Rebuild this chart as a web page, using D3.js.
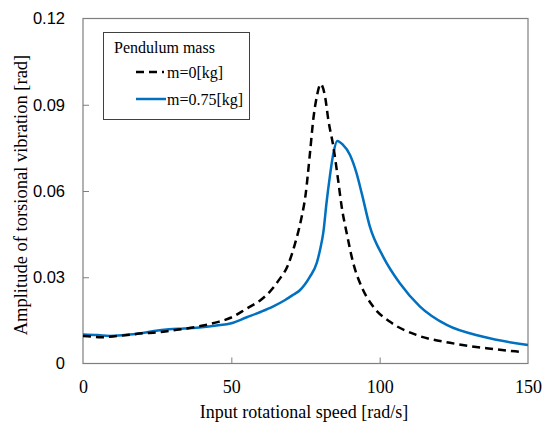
<!DOCTYPE html>
<html><head><meta charset="utf-8">
<script src="https://cdn.jsdelivr.net/npm/d3@7/dist/d3.min.js"></script>
<style>body{margin:0;background:#fff}</style>
</head><body>
<svg id="c" width="551" height="422"></svg>
<script>
const xTicks = [0, 50, 100, 150];
const yTicks = [0, 0.03, 0.06, 0.09, 0.12];
const yTickLabels = ["0", "0.03", "0.06", "0.09", "0.12"];
const seriesNames = ["m=0[kg]", "m=0.75[kg]"];
const speed0 = [0,3,6,10,15,20,25,30,35,40,45,50,55,60,63,66,69,71.5,73.5,75,76.5,77.6,78.8,80.1,81.6,82.7,84.4,86,87.2,88.9,91.1,93.9,97.8,103.5,112.5,123.7,136,147,148];
const amp0 = [0.0096,0.0094,0.0091,0.0094,0.0099,0.0105,0.0108,0.0115,0.0122,0.0131,0.0143,0.0160,0.0190,0.0222,0.0250,0.0290,0.0340,0.0418,0.0500,0.0585,0.0731,0.0847,0.0928,0.0972,0.0928,0.0847,0.0754,0.0638,0.0545,0.0453,0.0349,0.0267,0.0198,0.0145,0.0099,0.0072,0.0053,0.0041,0.0040];
const speed1 = [0,5,9,14,19,24,29,34,40,45,50,55,60,64,68,71,73,76.5,78.8,80,81,82.1,83.2,84.4,85.7,87.5,90,92.2,94,96.7,101.2,106.8,113.6,122.6,134.9,150];
const amp1 = [0.0101,0.0099,0.0096,0.0099,0.0104,0.0113,0.0119,0.0122,0.0126,0.0132,0.0140,0.0160,0.0180,0.0198,0.0220,0.0240,0.0254,0.0302,0.0350,0.0400,0.0455,0.0560,0.0650,0.0731,0.0774,0.0762,0.0725,0.0662,0.0590,0.0476,0.0371,0.0279,0.0198,0.0134,0.0093,0.0064];

const svg = d3.select("#c");
const L = 83, R = 528, T = 18.5, B = 363.5;
const serif = "'Liberation Serif', 'Times New Roman', serif";
const x = d3.scaleLinear().domain([0,150]).range([L,R]);
const y = d3.scaleLinear().domain([0,0.12]).range([B,T]);

// axes with inward ticks
const xAxis = svg.append("g").attr("transform",`translate(0,${B})`)
  .call(d3.axisBottom(x).tickValues(xTicks).tickSize(-6).tickPadding(17).tickFormat(d3.format("d")));
xAxis.select(".domain").remove();
xAxis.selectAll("line").attr("stroke","#7f7f7f");
xAxis.selectAll("text").attr("font-family",serif).attr("font-size",18).attr("fill","#000");
xAxis.selectAll(".tick").filter(d=>d===0||d===150).select("line").remove();

const yAxis = svg.append("g").attr("transform",`translate(${L},0)`)
  .call(d3.axisLeft(y).tickValues(yTicks).tickSize(-6).tickPadding(18).tickFormat((d,i)=>yTickLabels[i]));
yAxis.select(".domain").remove();
yAxis.selectAll("line").attr("stroke","#7f7f7f");
yAxis.selectAll("text").attr("font-family","'Liberation Sans', Arial, sans-serif").attr("font-size",16.5).attr("fill","#000");
yAxis.selectAll(".tick").filter(d=>d===0||d===0.12).select("line").remove();

// frame
svg.append("rect").attr("x",L).attr("y",T).attr("width",R-L).attr("height",B-T)
  .attr("fill","none").attr("stroke","#7f7f7f").attr("stroke-width",1.2);

const line = d3.line().x(d=>x(d[0])).y(d=>y(d[1])).curve(d3.curveMonotoneX);
const d0 = speed0.map((s,i)=>[s,amp0[i]]);
const d1 = speed1.map((s,i)=>[s,amp1[i]]);
svg.append("path").attr("d",line(d1)).attr("fill","none").attr("stroke","#0070C0").attr("stroke-width",2.5);
svg.append("path").attr("d",line(d0)).attr("fill","none").attr("stroke","#000").attr("stroke-width",2.5).attr("stroke-dasharray","8,5");

// axis titles
svg.append("text").attr("x",304).attr("y",418).attr("text-anchor","middle")
  .attr("font-family",serif).attr("font-size",18).text("Input rotational speed [rad/s]");
svg.append("text").attr("transform","translate(27,195) rotate(-90)").attr("text-anchor","middle")
  .attr("font-family",serif).attr("font-size",18.5).text("Amplitude of torsional vibration [rad]");

// legend
const lg = svg.append("g");
lg.append("rect").attr("x",103.5).attr("y",32.5).attr("width",146).attr("height",87).attr("fill","#fff").attr("stroke","#404040").attr("stroke-width",1);
lg.append("text").attr("x",114).attr("y",53).attr("font-family",serif).attr("font-size",16).text("Pendulum mass");
lg.append("line").attr("x1",136).attr("x2",164).attr("y1",72).attr("y2",72).attr("stroke","#000").attr("stroke-width",2.5).attr("stroke-dasharray","8,5");
lg.append("text").attr("x",167).attr("y",77.5).attr("font-family",serif).attr("font-size",16).text(seriesNames[0]);
lg.append("line").attr("x1",136).attr("x2",166).attr("y1",99).attr("y2",99).attr("stroke","#0070C0").attr("stroke-width",2.5);
lg.append("text").attr("x",167).attr("y",104.5).attr("font-family",serif).attr("font-size",16).text(seriesNames[1]);
</script>
</body></html>
